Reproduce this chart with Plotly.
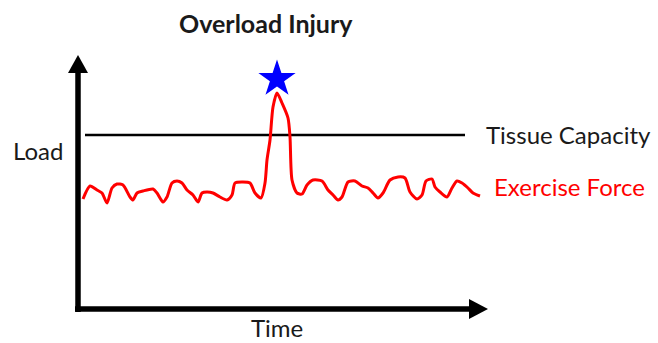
import plotly.graph_objects as go

# Schematic data (time, load units)
force_time = [5, 12, 19, 24, 29, 34, 39, 45, 52, 55, 59, 65, 75, 79, 85, 89, 94, 99, 104, 109,
              115, 120, 124, 129, 135, 142, 149, 154, 157, 165, 172, 177, 183, 187, 189, 192,
              195, 199, 204, 210, 212, 214, 219, 224, 229, 235, 244, 250, 255, 260, 264, 270,
              277, 284, 290, 295, 300, 305, 312, 320, 327, 332, 339, 344, 348, 354, 357, 362,
              369, 374, 379, 384, 390, 395, 402]
force_load = [110, 123, 119, 116, 106, 121, 125, 124, 112, 109, 116, 118, 120, 116, 107, 112, 126,
              128, 126, 119, 114, 107, 116, 117, 116, 112, 109, 114, 126, 127, 126, 116, 111, 126,
              149, 169, 202, 216, 206, 191, 172, 129, 116, 115, 124, 129, 128, 119, 114, 109, 112,
              127, 128, 123, 121, 116, 111, 116, 129, 132, 131, 117, 110, 114, 128, 130, 122, 117,
              112, 121, 128, 126, 121, 116, 113]
capacity_time = [7, 387]
capacity_load = [174, 174]
injury_time = [199]
injury_load = [230]

FONT = "Lato"
TXT = "#1a1a1a"

fig = go.Figure()
fig.add_trace(go.Scatter(x=capacity_time, y=capacity_load, mode="lines",
                         line=dict(color="#000000", width=2.5), hoverinfo="skip"))
fig.add_trace(go.Scatter(x=force_time, y=force_load, mode="lines",
                         line=dict(color="#ff0000", width=3, shape="spline", smoothing=0.7),
                         hoverinfo="skip"))
fig.add_trace(go.Scatter(x=injury_time, y=injury_load, mode="markers",
                         marker=dict(symbol="star", size=28, color="#0000ff",
                                     line=dict(width=0)), hoverinfo="skip"))

# Axes with arrows
shapes = [
    dict(type="line", x0=0, y0=-3, x1=0, y1=238, line=dict(color="black", width=5.5)),
    dict(type="line", x0=-3, y0=0, x1=392, y1=0, line=dict(color="black", width=5.5)),
    dict(type="path", path="M 0 254 L -10 236 L 10 236 Z", fillcolor="black",
         line=dict(width=0)),
    dict(type="path", path="M 410 0 L 391 10 L 391 -10 Z", fillcolor="black",
         line=dict(width=0)),
]

annotations = [
    dict(x=188, y=286, text="<b>Overload Injury</b>", showarrow=False,
         font=dict(family=FONT, size=25, color=TXT)),
    dict(x=-40, y=159, text="Load", showarrow=False,
         font=dict(family=FONT, size=24, color=TXT)),
    dict(x=199, y=-34, yanchor="bottom", borderpad=0, text="Time", showarrow=False,
         font=dict(family=FONT, size=24, color=TXT)),
    dict(x=406, y=175, text="Tissue Capacity", showarrow=False, xanchor="left",
         font=dict(family=FONT, size=24, color=TXT)),
    dict(x=414, y=123, text="Exercise Force", showarrow=False, xanchor="left",
         font=dict(family=FONT, size=24, color="#ff0000")),
]

fig.update_layout(
    width=658, height=343,
    margin=dict(l=0, r=0, t=0, b=0),
    paper_bgcolor="white", plot_bgcolor="white",
    showlegend=False,
    xaxis=dict(range=[-78, 580], visible=False, fixedrange=True),
    yaxis=dict(range=[-34, 309], visible=False, fixedrange=True),
    shapes=shapes,
    annotations=annotations,
)

fig.write_html("out.html", config={"displayModeBar": False},
               post_script="document.body.style.margin='0';")
